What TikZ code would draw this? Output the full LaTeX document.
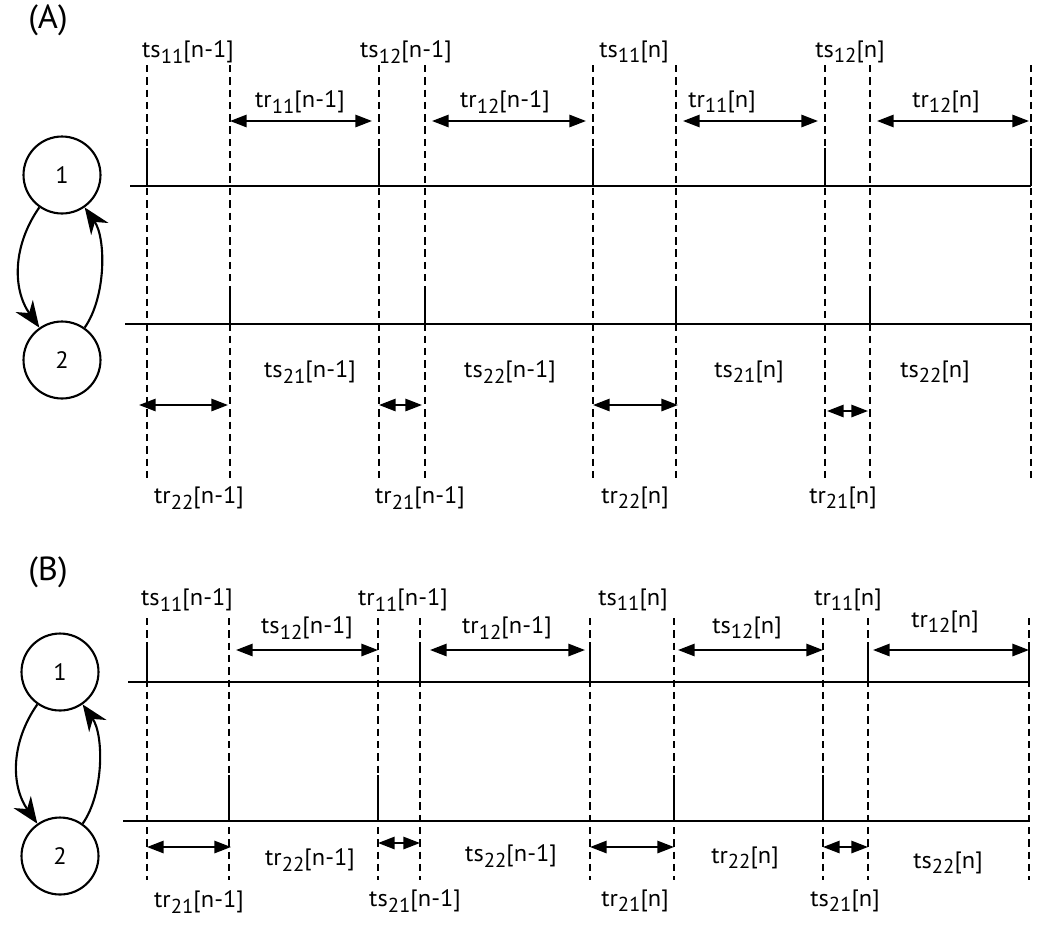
\documentclass[tikz,border=0pt]{standalone}
\usepackage{fontspec}
\setmainfont{PT Sans}[FakeStretch=1.03]
\usetikzlibrary{arrows.meta}

\tikzstyle{vertex}=[draw,line width=1.2pt,circle,minimum size=1.54cm,inner sep=0pt,font=\fontsize{13.5}{15}\selectfont]
\tikzstyle{hop}=[draw,line width=1.2pt,-{Stealth[length=15pt,width=12pt]}]
\tikzstyle{axis}=[draw,line width=1.3pt]
\tikzstyle{pulse}=[draw,line width=1.5pt]
\tikzstyle{slot}=[draw,line width=1.4pt,dash pattern=on 4.2pt off 2.8pt]
\tikzstyle{span}=[draw,line width=1.2pt,{Triangle[length=9.5pt,width=7pt]}-{Triangle[length=9.5pt,width=7pt]}]
\tikzstyle{tlabel}=[font=\fontsize{13.5}{15}\selectfont,inner sep=1pt]
\tikzstyle{panel}=[font=\fontsize{19}{21}\selectfont]
\newcommand{\px}{0.02cm}
\newcommand{\idx}[1]{\raisebox{-0.45ex}{\fontsize{11.5}{12}\selectfont#1}}

\begin{document}
\begin{tikzpicture}[x=\px, y=-\px]
    \useasboundingbox (0,0) rectangle (1050,930);

    % Panel (A): the two nodes and their links
    \node[panel] (labA) at (48,20) {(A)};
    \node[vertex] (nA1) at (62,175) {1};
    \node[vertex] (nA2) at (62,360) {2};
    \path[hop] (nA1) to[out=235,in=125] (nA2);
    \path[hop] (nA2) to[out=55,in=305,looseness=0.8] (nA1);

    % dashed slot boundaries
    \foreach \x/\n in {147/1,230/2,379/3,425/4,593/5,676/6,825/7,870/8,1031/9} {
        \coordinate (A\n) at (\x,65);
        \coordinate (eA\n) at (\x,480);
        \path[slot] (A\n) -- (eA\n);
    }
    % time axes of node 1 and node 2
    \coordinate (axA1) at (130,186); \coordinate (axA1e) at (1031,186);
    \coordinate (axA2) at (125,324); \coordinate (axA2e) at (1031,324);
    \path[axis] (axA1) -- (axA1e);
    \path[axis] (axA2) -- (axA2e);
    \foreach \n in {1,3,5,7,9}
        \path[pulse] (A\n |- axA1) -- ++(0,-38);
    \foreach \n in {2,4,6,8}
        \path[pulse] (A\n |- axA2) -- ++(0,-37);

    % intervals between boundaries
    \foreach \a/\b/\y/\s/\e in {2/3/121/0/7, 4/5/121/7/7, 6/7/121/7/7, 8/9/121/7/2,
                                1/2/405/-8/2, 3/4/405/0/3, 5/6/405/0/-2, 7/8/411/2/2}
        \path[span, shorten <=\s*\px, shorten >=\e*\px] (A\a |- 0,\y) -- (A\b |- 0,\y);

    % labels
    \foreach \pos/\txt [count=\i] in {{(188,52)/ts\idx{11}[n-1]}, {(406,52)/ts\idx{12}[n-1]},
            {(634,52)/ts\idx{11}[n]}, {(850,52)/ts\idx{12}[n]},
            {(300,102)/tr\idx{11}[n-1]}, {(505,102)/tr\idx{12}[n-1]},
            {(722,102)/tr\idx{11}[n]}, {(946,102)/tr\idx{12}[n]},
            {(310,372)/ts\idx{21}[n-1]}, {(510,372)/ts\idx{22}[n-1]},
            {(749,372)/ts\idx{21}[n]}, {(935,372)/ts\idx{22}[n]},
            {(199,498)/tr\idx{22}[n-1]}, {(420,498)/tr\idx{21}[n-1]},
            {(635,498)/tr\idx{22}[n]}, {(843,498)/tr\idx{21}[n]}}
        \node[tlabel] (tA\i) at \pos {\txt};

    % Panel (B): the two nodes and their links
    \node[panel] (labB) at (48,572) {(B)};
    \node[vertex] (nB1) at (60,672) {1};
    \node[vertex] (nB2) at (60,856) {2};
    \path[hop] (nB1) to[out=235,in=125] (nB2);
    \path[hop] (nB2) to[out=55,in=305,looseness=0.8] (nB1);

    % dashed slot boundaries
    \foreach \x/\n in {147/1,229/2,378/3,420/4,590/5,674/6,823/7,868/8,1029/9} {
        \coordinate (B\n) at (\x,618);
        \coordinate (eB\n) at (\x,880);
        \path[slot] (B\n) -- (eB\n);
    }
    % time axes of node 1 and node 2
    \coordinate (axB1) at (128,682); \coordinate (axB1e) at (1030,682);
    \coordinate (axB2) at (123,821); \coordinate (axB2e) at (1030,821);
    \path[axis] (axB1) -- (axB1e);
    \path[axis] (axB2) -- (axB2e);
    \foreach \n in {1,4,5,8,9}
        \path[pulse] (B\n |- axB1) -- ++(0,-40);
    \foreach \n in {2,3,6,7}
        \path[pulse] (B\n |- axB2) -- ++(0,-46);

    % intervals between boundaries
    \foreach \a/\b/\y/\s/\e in {2/3/650/7/0, 4/5/650/10/5, 6/7/650/4/0, 8/9/650/5/0,
                                1/2/847/0/-2, 3/4/843/0/0, 5/6/847/0/0, 7/8/847/0/0}
        \path[span, shorten <=\s*\px, shorten >=\e*\px] (B\a |- 0,\y) -- (B\b |- 0,\y);

    % labels
    \foreach \pos/\txt [count=\i] in {{(187,600)/ts\idx{11}[n-1]}, {(403,600)/tr\idx{11}[n-1]},
            {(633,600)/ts\idx{11}[n]}, {(848,600)/tr\idx{11}[n]},
            {(307,628)/ts\idx{12}[n-1]}, {(507,628)/tr\idx{12}[n-1]},
            {(747,628)/ts\idx{12}[n]}, {(945,622)/tr\idx{12}[n]},
            {(310,860)/tr\idx{22}[n-1]}, {(511,856)/ts\idx{22}[n-1]},
            {(745,858)/tr\idx{22}[n]}, {(948,863)/ts\idx{22}[n]},
            {(199,902)/tr\idx{21}[n-1]}, {(415,901)/ts\idx{21}[n-1]},
            {(635,901)/tr\idx{21}[n]}, {(845,901)/ts\idx{21}[n]}}
        \node[tlabel] (tB\i) at \pos {\txt};
\end{tikzpicture}
\end{document}
